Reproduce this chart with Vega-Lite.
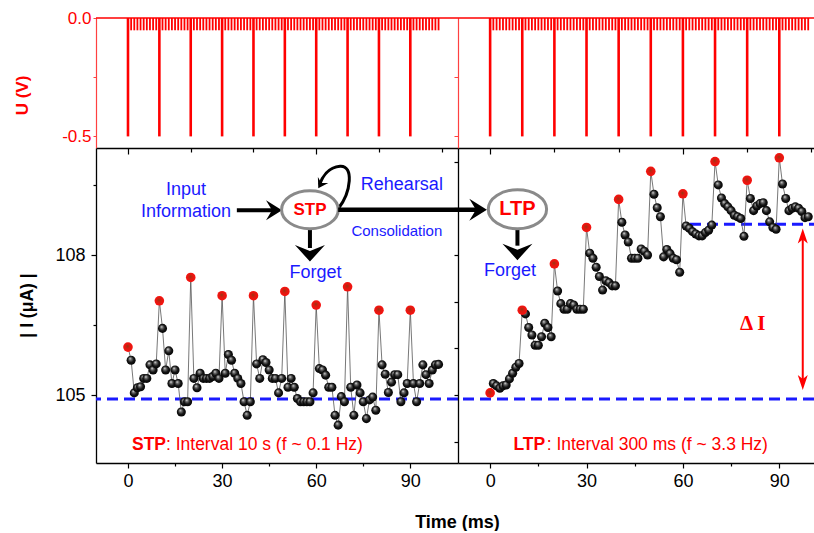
{
"$schema":"https://vega.github.io/schema/vega-lite/v6.json",
"background":"white",
"padding":{"left":13,"top":9,"right":0,"bottom":0},
"config":{"view":{"stroke":null},"font":"Liberation Sans","concat":{"spacing":0},"axis":{"grid":false,"labelFont":"Liberation Sans","titleFont":"Liberation Sans"},"text":{"font":"Liberation Sans"}},
"datasets":{
"pulse":[{"t":0,"u":-0.5},{"t":1,"u":-0.052},{"t":2,"u":-0.052},{"t":3,"u":-0.052},{"t":4,"u":-0.052},{"t":5,"u":-0.052},{"t":6,"u":-0.052},{"t":7,"u":-0.052},{"t":8,"u":-0.052},{"t":9,"u":-0.052},
{"t":10,"u":-0.5},{"t":11,"u":-0.052},{"t":12,"u":-0.052},{"t":13,"u":-0.052},{"t":14,"u":-0.052},{"t":15,"u":-0.052},{"t":16,"u":-0.052},{"t":17,"u":-0.052},{"t":18,"u":-0.052},{"t":19,"u":-0.052},
{"t":20,"u":-0.5},{"t":21,"u":-0.052},{"t":22,"u":-0.052},{"t":23,"u":-0.052},{"t":24,"u":-0.052},{"t":25,"u":-0.052},{"t":26,"u":-0.052},{"t":27,"u":-0.052},{"t":28,"u":-0.052},{"t":29,"u":-0.052},
{"t":30,"u":-0.5},{"t":31,"u":-0.052},{"t":32,"u":-0.052},{"t":33,"u":-0.052},{"t":34,"u":-0.052},{"t":35,"u":-0.052},{"t":36,"u":-0.052},{"t":37,"u":-0.052},{"t":38,"u":-0.052},{"t":39,"u":-0.052},
{"t":40,"u":-0.5},{"t":41,"u":-0.052},{"t":42,"u":-0.052},{"t":43,"u":-0.052},{"t":44,"u":-0.052},{"t":45,"u":-0.052},{"t":46,"u":-0.052},{"t":47,"u":-0.052},{"t":48,"u":-0.052},{"t":49,"u":-0.052},
{"t":50,"u":-0.5},{"t":51,"u":-0.052},{"t":52,"u":-0.052},{"t":53,"u":-0.052},{"t":54,"u":-0.052},{"t":55,"u":-0.052},{"t":56,"u":-0.052},{"t":57,"u":-0.052},{"t":58,"u":-0.052},{"t":59,"u":-0.052},
{"t":60,"u":-0.5},{"t":61,"u":-0.052},{"t":62,"u":-0.052},{"t":63,"u":-0.052},{"t":64,"u":-0.052},{"t":65,"u":-0.052},{"t":66,"u":-0.052},{"t":67,"u":-0.052},{"t":68,"u":-0.052},{"t":69,"u":-0.052},
{"t":70,"u":-0.5},{"t":71,"u":-0.052},{"t":72,"u":-0.052},{"t":73,"u":-0.052},{"t":74,"u":-0.052},{"t":75,"u":-0.052},{"t":76,"u":-0.052},{"t":77,"u":-0.052},{"t":78,"u":-0.052},{"t":79,"u":-0.052},
{"t":80,"u":-0.5},{"t":81,"u":-0.052},{"t":82,"u":-0.052},{"t":83,"u":-0.052},{"t":84,"u":-0.052},{"t":85,"u":-0.052},{"t":86,"u":-0.052},{"t":87,"u":-0.052},{"t":88,"u":-0.052},{"t":89,"u":-0.052},
{"t":90,"u":-0.5},{"t":91,"u":-0.052},{"t":92,"u":-0.052},{"t":93,"u":-0.052},{"t":94,"u":-0.052},{"t":95,"u":-0.052},{"t":96,"u":-0.052},{"t":97,"u":-0.052},{"t":98,"u":-0.052},{"t":99,"u":-0.052}],
"cur":[
{"p":"STP","t":0,"i":106.03,"k":"P"},{"p":"STP","t":1,"i":105.75,"k":"R"},{"p":"STP","t":2,"i":105.05,"k":"R"},{"p":"STP","t":3,"i":105.16,"k":"R"},{"p":"STP","t":4,"i":105.18,"k":"R"},{"p":"STP","t":5,"i":105.36,"k":"R"},{"p":"STP","t":6,"i":105.36,"k":"R"},{"p":"STP","t":7,"i":105.65,"k":"R"},{"p":"STP","t":8,"i":105.54,"k":"R"},{"p":"STP","t":9,"i":105.67,"k":"R"},
{"p":"STP","t":10,"i":107.02,"k":"P"},{"p":"STP","t":11,"i":106.43,"k":"R"},{"p":"STP","t":12,"i":105.54,"k":"R"},{"p":"STP","t":13,"i":105.95,"k":"R"},{"p":"STP","t":14,"i":105.25,"k":"R"},{"p":"STP","t":15,"i":105.54,"k":"R"},{"p":"STP","t":16,"i":105.25,"k":"R"},{"p":"STP","t":17,"i":104.64,"k":"R"},{"p":"STP","t":18,"i":104.86,"k":"R"},{"p":"STP","t":19,"i":104.86,"k":"R"},
{"p":"STP","t":20,"i":107.52,"k":"P"},{"p":"STP","t":21,"i":105.36,"k":"R"},{"p":"STP","t":22,"i":105.16,"k":"R"},{"p":"STP","t":23,"i":105.47,"k":"R"},{"p":"STP","t":24,"i":105.36,"k":"R"},{"p":"STP","t":25,"i":105.36,"k":"R"},{"p":"STP","t":26,"i":105.36,"k":"R"},{"p":"STP","t":27,"i":105.4,"k":"R"},{"p":"STP","t":28,"i":105.47,"k":"R"},{"p":"STP","t":29,"i":105.36,"k":"R"},
{"p":"STP","t":30,"i":107.13,"k":"P"},{"p":"STP","t":31,"i":105.47,"k":"R"},{"p":"STP","t":32,"i":105.87,"k":"R"},{"p":"STP","t":33,"i":105.75,"k":"R"},{"p":"STP","t":34,"i":105.47,"k":"R"},{"p":"STP","t":35,"i":105.36,"k":"R"},{"p":"STP","t":36,"i":105.25,"k":"R"},{"p":"STP","t":37,"i":104.86,"k":"R"},{"p":"STP","t":38,"i":104.57,"k":"R"},{"p":"STP","t":39,"i":104.86,"k":"R"},
{"p":"STP","t":40,"i":107.13,"k":"P"},{"p":"STP","t":41,"i":105.67,"k":"R"},{"p":"STP","t":42,"i":105.36,"k":"R"},{"p":"STP","t":43,"i":105.76,"k":"R"},{"p":"STP","t":44,"i":105.7,"k":"R"},{"p":"STP","t":45,"i":105.54,"k":"R"},{"p":"STP","t":46,"i":105.36,"k":"R"},{"p":"STP","t":47,"i":105.36,"k":"R"},{"p":"STP","t":48,"i":105.05,"k":"R"},{"p":"STP","t":49,"i":105.36,"k":"R"},
{"p":"STP","t":50,"i":107.22,"k":"P"},{"p":"STP","t":51,"i":105.17,"k":"R"},{"p":"STP","t":52,"i":105.36,"k":"R"},{"p":"STP","t":53,"i":105.17,"k":"R"},{"p":"STP","t":54,"i":104.93,"k":"R"},{"p":"STP","t":55,"i":104.86,"k":"R"},{"p":"STP","t":56,"i":104.86,"k":"R"},{"p":"STP","t":57,"i":104.86,"k":"R"},{"p":"STP","t":58,"i":104.86,"k":"R"},{"p":"STP","t":59,"i":105.05,"k":"R"},
{"p":"STP","t":60,"i":106.93,"k":"P"},{"p":"STP","t":61,"i":105.57,"k":"R"},{"p":"STP","t":62,"i":105.54,"k":"R"},{"p":"STP","t":63,"i":105.43,"k":"R"},{"p":"STP","t":64,"i":105.17,"k":"R"},{"p":"STP","t":65,"i":105.17,"k":"R"},{"p":"STP","t":66,"i":104.57,"k":"R"},{"p":"STP","t":67,"i":104.36,"k":"R"},{"p":"STP","t":68,"i":104.97,"k":"R"},{"p":"STP","t":69,"i":104.86,"k":"R"},
{"p":"STP","t":70,"i":107.32,"k":"P"},{"p":"STP","t":71,"i":105.17,"k":"R"},{"p":"STP","t":72,"i":104.57,"k":"R"},{"p":"STP","t":73,"i":105.22,"k":"R"},{"p":"STP","t":74,"i":105.05,"k":"R"},{"p":"STP","t":75,"i":104.86,"k":"R"},{"p":"STP","t":76,"i":104.5,"k":"R"},{"p":"STP","t":77,"i":104.9,"k":"R"},{"p":"STP","t":78,"i":104.96,"k":"R"},{"p":"STP","t":79,"i":104.68,"k":"R"},
{"p":"STP","t":80,"i":106.82,"k":"P"},{"p":"STP","t":81,"i":105.65,"k":"R"},{"p":"STP","t":82,"i":105.45,"k":"R"},{"p":"STP","t":83,"i":105.06,"k":"R"},{"p":"STP","t":84,"i":105.28,"k":"R"},{"p":"STP","t":85,"i":105.44,"k":"R"},{"p":"STP","t":86,"i":105.44,"k":"R"},{"p":"STP","t":87,"i":104.86,"k":"R"},{"p":"STP","t":88,"i":105.05,"k":"R"},{"p":"STP","t":89,"i":105.25,"k":"R"},
{"p":"STP","t":90,"i":106.82,"k":"P"},{"p":"STP","t":91,"i":105.25,"k":"R"},{"p":"STP","t":92,"i":104.86,"k":"R"},{"p":"STP","t":93,"i":105.25,"k":"R"},{"p":"STP","t":94,"i":105.65,"k":"R"},{"p":"STP","t":95,"i":105.44,"k":"R"},{"p":"STP","t":96,"i":105.25,"k":"R"},{"p":"STP","t":97,"i":105.54,"k":"R"},{"p":"STP","t":98,"i":105.65,"k":"R"},{"p":"STP","t":99,"i":105.66,"k":"R"},
{"p":"LTP","t":0,"i":105.05,"k":"P"},{"p":"LTP","t":1,"i":105.25,"k":"R"},{"p":"LTP","t":2,"i":105.2,"k":"R"},{"p":"LTP","t":3,"i":105.15,"k":"R"},{"p":"LTP","t":4,"i":105.2,"k":"R"},{"p":"LTP","t":5,"i":105.22,"k":"R"},{"p":"LTP","t":6,"i":105.35,"k":"R"},{"p":"LTP","t":7,"i":105.47,"k":"R"},{"p":"LTP","t":8,"i":105.6,"k":"R"},{"p":"LTP","t":9,"i":105.68,"k":"R"},
{"p":"LTP","t":10,"i":106.82,"k":"P"},{"p":"LTP","t":11,"i":106.74,"k":"R"},{"p":"LTP","t":12,"i":106.45,"k":"R"},{"p":"LTP","t":13,"i":106.29,"k":"R"},{"p":"LTP","t":14,"i":106.07,"k":"R"},{"p":"LTP","t":15,"i":106.07,"k":"R"},{"p":"LTP","t":16,"i":106.25,"k":"R"},{"p":"LTP","t":17,"i":106.54,"k":"R"},{"p":"LTP","t":18,"i":106.45,"k":"R"},{"p":"LTP","t":19,"i":106.25,"k":"R"},
{"p":"LTP","t":20,"i":107.81,"k":"P"},{"p":"LTP","t":21,"i":107.23,"k":"R"},{"p":"LTP","t":22,"i":106.96,"k":"R"},{"p":"LTP","t":23,"i":106.84,"k":"R"},{"p":"LTP","t":24,"i":106.84,"k":"R"},{"p":"LTP","t":25,"i":106.96,"k":"R"},{"p":"LTP","t":26,"i":106.93,"k":"R"},{"p":"LTP","t":27,"i":106.84,"k":"R"},{"p":"LTP","t":28,"i":106.84,"k":"R"},{"p":"LTP","t":29,"i":106.84,"k":"R"},
{"p":"LTP","t":30,"i":108.59,"k":"P"},{"p":"LTP","t":31,"i":108.04,"k":"R"},{"p":"LTP","t":32,"i":107.93,"k":"R"},{"p":"LTP","t":33,"i":107.74,"k":"R"},{"p":"LTP","t":34,"i":107.54,"k":"R"},{"p":"LTP","t":35,"i":107.25,"k":"R"},{"p":"LTP","t":36,"i":107.45,"k":"R"},{"p":"LTP","t":37,"i":107.41,"k":"R"},{"p":"LTP","t":38,"i":107.34,"k":"R"},{"p":"LTP","t":39,"i":107.34,"k":"R"},
{"p":"LTP","t":40,"i":109.19,"k":"P"},{"p":"LTP","t":41,"i":108.7,"k":"R"},{"p":"LTP","t":42,"i":108.43,"k":"R"},{"p":"LTP","t":43,"i":108.28,"k":"R"},{"p":"LTP","t":44,"i":107.93,"k":"R"},{"p":"LTP","t":45,"i":107.93,"k":"R"},{"p":"LTP","t":46,"i":107.93,"k":"R"},{"p":"LTP","t":47,"i":108.13,"k":"R"},{"p":"LTP","t":48,"i":108.08,"k":"R"},{"p":"LTP","t":49,"i":108.0,"k":"R"},
{"p":"LTP","t":50,"i":109.79,"k":"P"},{"p":"LTP","t":51,"i":109.3,"k":"R"},{"p":"LTP","t":52,"i":109.01,"k":"R"},{"p":"LTP","t":53,"i":108.82,"k":"R"},{"p":"LTP","t":54,"i":107.96,"k":"R"},{"p":"LTP","t":55,"i":108.12,"k":"R"},{"p":"LTP","t":56,"i":108.03,"k":"R"},{"p":"LTP","t":57,"i":107.93,"k":"R"},{"p":"LTP","t":58,"i":107.9,"k":"R"},{"p":"LTP","t":59,"i":107.63,"k":"R"},
{"p":"LTP","t":60,"i":109.31,"k":"P"},{"p":"LTP","t":61,"i":108.62,"k":"R"},{"p":"LTP","t":62,"i":108.57,"k":"R"},{"p":"LTP","t":63,"i":108.5,"k":"R"},{"p":"LTP","t":64,"i":108.45,"k":"R"},{"p":"LTP","t":65,"i":108.41,"k":"R"},{"p":"LTP","t":66,"i":108.41,"k":"R"},{"p":"LTP","t":67,"i":108.48,"k":"R"},{"p":"LTP","t":68,"i":108.53,"k":"R"},{"p":"LTP","t":69,"i":108.64,"k":"R"},
{"p":"LTP","t":70,"i":110.0,"k":"P"},{"p":"LTP","t":71,"i":109.5,"k":"R"},{"p":"LTP","t":72,"i":109.22,"k":"R"},{"p":"LTP","t":73,"i":109.1,"k":"R"},{"p":"LTP","t":74,"i":109.03,"k":"R"},{"p":"LTP","t":75,"i":108.95,"k":"R"},{"p":"LTP","t":76,"i":108.85,"k":"R"},{"p":"LTP","t":77,"i":108.82,"k":"R"},{"p":"LTP","t":78,"i":108.78,"k":"R"},{"p":"LTP","t":79,"i":108.4,"k":"R"},
{"p":"LTP","t":80,"i":109.6,"k":"P"},{"p":"LTP","t":81,"i":109.21,"k":"R"},{"p":"LTP","t":82,"i":108.95,"k":"R"},{"p":"LTP","t":83,"i":109.05,"k":"R"},{"p":"LTP","t":84,"i":109.1,"k":"R"},{"p":"LTP","t":85,"i":109.12,"k":"R"},{"p":"LTP","t":86,"i":108.95,"k":"R"},{"p":"LTP","t":87,"i":108.71,"k":"R"},{"p":"LTP","t":88,"i":108.59,"k":"R"},{"p":"LTP","t":89,"i":108.55,"k":"R"},
{"p":"LTP","t":90,"i":110.08,"k":"P"},{"p":"LTP","t":91,"i":109.52,"k":"R"},{"p":"LTP","t":92,"i":109.21,"k":"R"},{"p":"LTP","t":93,"i":108.95,"k":"R"},{"p":"LTP","t":94,"i":109.0,"k":"R"},{"p":"LTP","t":95,"i":109.03,"k":"R"},{"p":"LTP","t":96,"i":109.0,"k":"R"},{"p":"LTP","t":97,"i":108.93,"k":"R"},{"p":"LTP","t":98,"i":108.8,"k":"R"},{"p":"LTP","t":99,"i":108.82,"k":"R"}
]},
"bounds":"flush",
"spacing":0,
"align":"each",
"columns":2,
"concat":[
{"width":362,"height":130,"layer":[
{"data":{"name":"pulse"},"transform":[{"filter":"datum.u > -0.3"}],"mark":{"type":"rule","color":"#ff0000","strokeWidth":1.8},
"encoding":{"x":{"field":"t","type":"quantitative","scale":{"domain":[-10.2,105.2],"nice":false,"zero":false},"axis":{"orient":"bottom","title":null,"labels":false,"values":[0,10,20,30,40,50,60,70,80,90,100],"tickSize":{"condition":{"test":"datum.value % 30 === 0","value":6},"value":4},"domainColor":"#000000","tickColor":"#000000","domainWidth":1.3,"tickWidth":1.2}},
"y":{"field":"u","type":"quantitative","scale":{"domain":[-0.549,0],"nice":false,"zero":false},"axis":{"title":"U (V)","titleColor":"#ff0000","titleFontSize":17,"titleFontWeight":"bold","titleX":-74,"titleY":77,"titleAngle":270,"titleAlign":"center","titleBaseline":"middle","values":[0,-0.125,-0.25,-0.375,-0.5],"labelExpr":"datum.value === 0 ? '0.0' : (datum.value === -0.5 ? '-0.5' : '')","labelColor":"#ff0000","labelFontSize":17,"labelPadding":2,"labelFlush":false,"labelOverlap":false,"labelBaseline":"middle","tickSize":3,"tickColor":"#ff4040","domainColor":"#ff4040","domainWidth":1.2}},
"y2":{"datum":0}}},
{"data":{"name":"pulse"},"transform":[{"filter":"datum.u <= -0.3"}],"mark":{"type":"rule","color":"#ff0000","strokeWidth":2.6},
"encoding":{"x":{"field":"t","type":"quantitative","scale":{"domain":[-10.2,105.2],"nice":false,"zero":false}},"y":{"field":"u","type":"quantitative","scale":{"domain":[-0.549,0],"nice":false,"zero":false}},"y2":{"datum":0}}},
{"data":{"values":[{}]},"mark":{"type":"rule","color":"#ff0000","strokeWidth":1.5},"encoding":{"y":{"datum":0,"type":"quantitative","scale":{"domain":[-0.549,0],"nice":false,"zero":false}}}}
]},
{"width":356,"height":130,"layer":[
{"data":{"name":"pulse"},"transform":[{"filter":"datum.u > -0.3"}],"mark":{"type":"rule","color":"#ff0000","strokeWidth":1.8},
"encoding":{"x":{"field":"t","type":"quantitative","scale":{"domain":[-10,100.8],"nice":false,"zero":false},"axis":{"orient":"bottom","title":null,"labels":false,"values":[0,10,20,30,40,50,60,70,80,90,100],"tickSize":{"condition":{"test":"datum.value % 30 === 0","value":6},"value":4},"domainColor":"#000000","tickColor":"#000000","domainWidth":1.3,"tickWidth":1.2}},
"y":{"field":"u","type":"quantitative","scale":{"domain":[-0.549,0],"nice":false,"zero":false},"axis":{"title":null,"labels":false,"values":[0,-0.125,-0.25,-0.375,-0.5],"tickSize":4,"tickColor":"#ff4040","domainColor":"#ff4040","domainWidth":1.2}},
"y2":{"datum":0}}},
{"data":{"name":"pulse"},"transform":[{"filter":"datum.u <= -0.3"}],"mark":{"type":"rule","color":"#ff0000","strokeWidth":2.6},
"encoding":{"x":{"field":"t","type":"quantitative","scale":{"domain":[-10,100.8],"nice":false,"zero":false}},"y":{"field":"u","type":"quantitative","scale":{"domain":[-0.549,0],"nice":false,"zero":false}},"y2":{"datum":0}}},
{"data":{"values":[{}]},"mark":{"type":"rule","color":"#ff0000","strokeWidth":1.5},"encoding":{"y":{"datum":0,"type":"quantitative","scale":{"domain":[-0.549,0],"nice":false,"zero":false}}}}
]},
{"width":362,"height":315,"layer":[
{"data":{"values":[{}]},"mark":{"type":"rule","color":"#1a1aff","strokeWidth":3,"strokeDash":[11,6]},"encoding":{"y":{"datum":104.92,"type":"quantitative","scale":{"domain":[103.55,110.29],"nice":false,"zero":false}}}},
{"data":{"name":"cur"},"transform":[{"filter":"datum.p === 'STP'"}],"mark":{"type":"line","color":"#555555","strokeWidth":0.8},
"encoding":{"x":{"field":"t","type":"quantitative","scale":{"domain":[-10.2,105.2],"nice":false,"zero":false},"axis":{"orient":"bottom","values":[0,15,30,45,60,75,90],"labelExpr":"datum.value % 30 === 0 ? datum.label : ''","labelFontSize":18,"labelColor":"#000000","labelPadding":4,"labelFlush":false,"labelOverlap":false,"tickSize":{"condition":{"test":"datum.value % 30 === 0","value":5},"value":3},"tickColor":"#000000","domainColor":"#000000","domainWidth":1.3,"tickWidth":1.2,"title":"Time (ms)","titleFontSize":18,"titleFontWeight":"bold","titleColor":"#000000","titleX":361,"titleY":59,"titleAlign":"center","titleBaseline":"middle","titleAngle":0}},
"y":{"field":"i","type":"quantitative","scale":{"domain":[103.55,110.29],"nice":false,"zero":false},"axis":{"values":[105,106.5,108,109.5],"labelExpr":"datum.value % 3 === 0 ? format(datum.value, 'd') : ''","labelFontSize":18,"labelColor":"#000000","labelPadding":6,"labelFlush":false,"labelOverlap":false,"tickSize":{"condition":{"test":"datum.value % 3 === 0","value":5},"value":3},"tickColor":"#000000","domainColor":"#000000","domainWidth":1.3,"tickWidth":1.2,"title":"| I (μA) |","titleFontSize":17.5,"titleFontWeight":"bold","titleColor":"#000000","titleX":-68.5,"titleY":157,"titleAngle":270,"titleAlign":"center","titleBaseline":"middle"}}}},
{"data":{"name":"cur"},"transform":[{"filter":"datum.p === 'STP' && datum.k === 'R'"}],"mark":{"type":"point","filled":true,"opacity":1,"strokeWidth":0,"size":82,"fill":{"gradient":"radial","x1":0.38,"y1":0.3,"r1":0,"x2":0.5,"y2":0.5,"r2":0.55,"stops":[{"offset":0,"color":"#f2f2f2"},{"offset":0.25,"color":"#707070"},{"offset":0.6,"color":"#151515"},{"offset":1,"color":"#000000"}]}},
"encoding":{"x":{"field":"t","type":"quantitative","scale":{"domain":[-10.2,105.2],"nice":false,"zero":false}},"y":{"field":"i","type":"quantitative","scale":{"domain":[103.55,110.29],"nice":false,"zero":false}}}},
{"data":{"name":"cur"},"transform":[{"filter":"datum.p === 'STP' && datum.k === 'P'"}],"mark":{"type":"point","filled":true,"opacity":1,"strokeWidth":0,"size":92,"fill":{"gradient":"radial","x1":0.45,"y1":0.4,"r1":0,"x2":0.5,"y2":0.5,"r2":0.55,"stops":[{"offset":0,"color":"#8c3c14"},{"offset":0.35,"color":"#d81c10"},{"offset":1,"color":"#ff1010"}]}},
"encoding":{"x":{"field":"t","type":"quantitative","scale":{"domain":[-10.2,105.2],"nice":false,"zero":false}},"y":{"field":"i","type":"quantitative","scale":{"domain":[103.55,110.29],"nice":false,"zero":false}}}},
{"data":{"values":[{}]},"mark":{"type":"text","text":"Input","color":"#1a1aff","fontSize":18,"align":"center","baseline":"middle"},"encoding":{"x":{"datum":18.5,"type":"quantitative","scale":{"domain":[-10.2,105.2],"nice":false,"zero":false}},"y":{"datum":109.39,"type":"quantitative","scale":{"domain":[103.55,110.29],"nice":false,"zero":false}}}},
{"data":{"values":[{}]},"mark":{"type":"text","text":"Information","color":"#1a1aff","fontSize":18,"align":"center","baseline":"middle"},"encoding":{"x":{"datum":18.5,"type":"quantitative","scale":{"domain":[-10.2,105.2],"nice":false,"zero":false}},"y":{"datum":108.92,"type":"quantitative","scale":{"domain":[103.55,110.29],"nice":false,"zero":false}}}},
{"data":{"values":[{}]},"mark":{"type":"rule","color":"#000000","strokeWidth":4},"encoding":{"x":{"datum":34.7,"type":"quantitative","scale":{"domain":[-10.2,105.2],"nice":false,"zero":false}},"x2":{"datum":46},"y":{"datum":108.96,"type":"quantitative","scale":{"domain":[103.55,110.29],"nice":false,"zero":false}}}},
{"data":{"values":[{}]},"mark":{"type":"point","shape":"M 0 0 L -1.6 -1 L -1 0 L -1.6 1 Z","size":400,"filled":true,"color":"#000000","opacity":1,"strokeWidth":0,"angle":0},"encoding":{"x":{"datum":49.1,"type":"quantitative","scale":{"domain":[-10.2,105.2],"nice":false,"zero":false}},"y":{"datum":108.96,"type":"quantitative","scale":{"domain":[103.55,110.29],"nice":false,"zero":false}}}},
{"data":{"values":[{}]},"mark":{"type":"point","shape":"M 0.215 1.015 C 0.85 0.2 1.0 -1.15 0.3 -1.1 C -0.3 -1.05 -0.6 -0.55 -0.72 -0.18","size":1600,"filled":false,"color":"#000000","opacity":1,"strokeWidth":3},"encoding":{"x":{"datum":65.7,"type":"quantitative","scale":{"domain":[-10.2,105.2],"nice":false,"zero":false}},"y":{"datum":109.43,"type":"quantitative","scale":{"domain":[103.55,110.29],"nice":false,"zero":false}}}},
{"data":{"values":[{}]},"mark":{"type":"point","shape":"M 0 0 L -1.6 -1 L -1 0 L -1.6 1 Z","size":144,"filled":true,"color":"#000000","opacity":1,"strokeWidth":0,"angle":120},"encoding":{"x":{"datum":60.66,"type":"quantitative","scale":{"domain":[-10.2,105.2],"nice":false,"zero":false}},"y":{"datum":109.43,"type":"quantitative","scale":{"domain":[103.55,110.29],"nice":false,"zero":false}}}},
{"data":{"values":[{}]},"mark":{"type":"rule","color":"#000000","strokeWidth":4},"encoding":{"x":{"datum":58,"type":"quantitative","scale":{"domain":[-10.2,105.2],"nice":false,"zero":false}},"y":{"datum":108.75,"type":"quantitative","scale":{"domain":[103.55,110.29],"nice":false,"zero":false}},"y2":{"datum":108.15}}},
{"data":{"values":[{}]},"mark":{"type":"point","shape":"M 0 0 L -1.1 -1 L -0.7 0 L -1.1 1 Z","size":900,"filled":true,"color":"#000000","opacity":1,"strokeWidth":0,"angle":90},"encoding":{"x":{"datum":58,"type":"quantitative","scale":{"domain":[-10.2,105.2],"nice":false,"zero":false}},"y":{"datum":107.86,"type":"quantitative","scale":{"domain":[103.55,110.29],"nice":false,"zero":false}}}},
{"data":{"values":[{}]},"mark":{"type":"point","shape":"M -1 0 C -1 -0.37 -0.552 -0.67 0 -0.67 C 0.552 -0.67 1 -0.37 1 0 C 1 0.37 0.552 0.67 0 0.67 C -0.552 0.67 -1 0.37 -1 0 Z","size":3215,"filled":true,"fill":"#ffffff","stroke":"#8a8a8a","strokeWidth":3,"opacity":1},"encoding":{"x":{"datum":58,"type":"quantitative","scale":{"domain":[-10.2,105.2],"nice":false,"zero":false}},"y":{"datum":108.97,"type":"quantitative","scale":{"domain":[103.55,110.29],"nice":false,"zero":false}}}},
{"data":{"values":[{}]},"mark":{"type":"text","text":"STP","color":"#ff0000","fontSize":17,"fontWeight":"bold","align":"center","baseline":"middle"},"encoding":{"x":{"datum":58,"type":"quantitative","scale":{"domain":[-10.2,105.2],"nice":false,"zero":false}},"y":{"datum":108.97,"type":"quantitative","scale":{"domain":[103.55,110.29],"nice":false,"zero":false}}}},
{"data":{"values":[{}]},"mark":{"type":"text","text":"Forget","color":"#1a1aff","fontSize":18,"align":"center","baseline":"middle"},"encoding":{"x":{"datum":59.8,"type":"quantitative","scale":{"domain":[-10.2,105.2],"nice":false,"zero":false}},"y":{"datum":107.61,"type":"quantitative","scale":{"domain":[103.55,110.29],"nice":false,"zero":false}}}},
{"data":{"values":[{}]},"mark":{"type":"text","text":"Rehearsal","color":"#1a1aff","fontSize":18,"align":"center","baseline":"middle"},"encoding":{"x":{"datum":87.3,"type":"quantitative","scale":{"domain":[-10.2,105.2],"nice":false,"zero":false}},"y":{"datum":109.5,"type":"quantitative","scale":{"domain":[103.55,110.29],"nice":false,"zero":false}}}},
{"data":{"values":[{}]},"mark":{"type":"text","text":"Consolidation","color":"#1a1aff","fontSize":15,"align":"center","baseline":"middle"},"encoding":{"x":{"datum":85.7,"type":"quantitative","scale":{"domain":[-10.2,105.2],"nice":false,"zero":false}},"y":{"datum":108.51,"type":"quantitative","scale":{"domain":[103.55,110.29],"nice":false,"zero":false}}}},
{"data":{"values":[{}]},"mark":{"type":"text","text":"STP","color":"#ff0000","fontSize":17.5,"fontWeight":"bold","align":"left","baseline":"middle"},"encoding":{"x":{"datum":1.28,"type":"quantitative","scale":{"domain":[-10.2,105.2],"nice":false,"zero":false}},"y":{"datum":103.93,"type":"quantitative","scale":{"domain":[103.55,110.29],"nice":false,"zero":false}}}},
{"data":{"values":[{}]},"mark":{"type":"text","text":": Interval 10 s (f ~ 0.1 Hz)","color":"#ff0000","fontSize":17.5,"align":"left","baseline":"middle"},"encoding":{"x":{"datum":12.1,"type":"quantitative","scale":{"domain":[-10.2,105.2],"nice":false,"zero":false}},"y":{"datum":103.93,"type":"quantitative","scale":{"domain":[103.55,110.29],"nice":false,"zero":false}}}}
]},
{"width":356,"height":315,"layer":[
{"data":{"values":[{}]},"mark":{"type":"rule","color":"#1a1aff","strokeWidth":3,"strokeDash":[11,6]},"encoding":{"y":{"datum":104.92,"type":"quantitative","scale":{"domain":[103.55,110.29],"nice":false,"zero":false}}}},
{"data":{"values":[{}]},"mark":{"type":"rule","color":"#1a1aff","strokeWidth":3,"strokeDash":[11,6]},"encoding":{"x":{"datum":62.2,"type":"quantitative","scale":{"domain":[-10,100.8],"nice":false,"zero":false}},"x2":{"datum":100.8},"y":{"datum":108.66,"type":"quantitative","scale":{"domain":[103.55,110.29],"nice":false,"zero":false}}}},
{"data":{"name":"cur"},"transform":[{"filter":"datum.p === 'LTP'"}],"mark":{"type":"line","color":"#555555","strokeWidth":0.8},
"encoding":{"x":{"field":"t","type":"quantitative","scale":{"domain":[-10,100.8],"nice":false,"zero":false},"axis":{"orient":"bottom","values":[0,15,30,45,60,75,90],"labelExpr":"datum.value % 30 === 0 ? datum.label : ''","labelFontSize":18,"labelColor":"#000000","labelPadding":4,"labelFlush":false,"labelOverlap":false,"tickSize":{"condition":{"test":"datum.value % 30 === 0","value":5},"value":3},"tickColor":"#000000","domainColor":"#000000","domainWidth":1.3,"tickWidth":1.2,"title":null}},
"y":{"field":"i","type":"quantitative","scale":{"domain":[103.55,110.29],"nice":false,"zero":false},"axis":{"title":null,"labels":false,"values":[104,104.5,105,105.5,106,106.5,107,107.5,108,108.5,109,109.5,110],"tickSize":4,"tickColor":"#000000","domainColor":"#000000","domainWidth":1.3,"tickWidth":1.2}}}},
{"data":{"name":"cur"},"transform":[{"filter":"datum.p === 'LTP' && datum.k === 'R'"}],"mark":{"type":"point","filled":true,"opacity":1,"strokeWidth":0,"size":82,"fill":{"gradient":"radial","x1":0.38,"y1":0.3,"r1":0,"x2":0.5,"y2":0.5,"r2":0.55,"stops":[{"offset":0,"color":"#f2f2f2"},{"offset":0.25,"color":"#707070"},{"offset":0.6,"color":"#151515"},{"offset":1,"color":"#000000"}]}},
"encoding":{"x":{"field":"t","type":"quantitative","scale":{"domain":[-10,100.8],"nice":false,"zero":false}},"y":{"field":"i","type":"quantitative","scale":{"domain":[103.55,110.29],"nice":false,"zero":false}}}},
{"data":{"name":"cur"},"transform":[{"filter":"datum.p === 'LTP' && datum.k === 'P'"}],"mark":{"type":"point","filled":true,"opacity":1,"strokeWidth":0,"size":92,"fill":{"gradient":"radial","x1":0.45,"y1":0.4,"r1":0,"x2":0.5,"y2":0.5,"r2":0.55,"stops":[{"offset":0,"color":"#8c3c14"},{"offset":0.35,"color":"#d81c10"},{"offset":1,"color":"#ff1010"}]}},
"encoding":{"x":{"field":"t","type":"quantitative","scale":{"domain":[-10,100.8],"nice":false,"zero":false}},"y":{"field":"i","type":"quantitative","scale":{"domain":[103.55,110.29],"nice":false,"zero":false}}}},
{"data":{"values":[{}]},"mark":{"type":"rule","color":"#ff0000","strokeWidth":2},"encoding":{"x":{"datum":97.3,"type":"quantitative","scale":{"domain":[-10,100.8],"nice":false,"zero":false}},"y":{"datum":108.45,"type":"quantitative","scale":{"domain":[103.55,110.29],"nice":false,"zero":false}},"y2":{"datum":105.22}}},
{"data":{"values":[{}]},"mark":{"type":"point","shape":"M 0 0 L -1.5 -0.5 L -1.1 0 L -1.5 0.5 Z","size":400,"filled":true,"color":"#ff0000","opacity":1,"strokeWidth":0,"angle":270},"encoding":{"x":{"datum":97.3,"type":"quantitative","scale":{"domain":[-10,100.8],"nice":false,"zero":false}},"y":{"datum":108.57,"type":"quantitative","scale":{"domain":[103.55,110.29],"nice":false,"zero":false}}}},
{"data":{"values":[{}]},"mark":{"type":"point","shape":"M 0 0 L -1.5 -0.5 L -1.1 0 L -1.5 0.5 Z","size":400,"filled":true,"color":"#ff0000","opacity":1,"strokeWidth":0,"angle":90},"encoding":{"x":{"datum":97.3,"type":"quantitative","scale":{"domain":[-10,100.8],"nice":false,"zero":false}},"y":{"datum":105.11,"type":"quantitative","scale":{"domain":[103.55,110.29],"nice":false,"zero":false}}}},
{"data":{"values":[{}]},"mark":{"type":"text","text":"Δ I","color":"#ff0000","font":"Liberation Serif","fontSize":21,"fontWeight":"bold","align":"center","baseline":"middle"},"encoding":{"x":{"datum":81.7,"type":"quantitative","scale":{"domain":[-10,100.8],"nice":false,"zero":false}},"y":{"datum":106.53,"type":"quantitative","scale":{"domain":[103.55,110.29],"nice":false,"zero":false}}}},
{"data":{"values":[{}]},"mark":{"type":"rule","color":"#000000","strokeWidth":4.5},"encoding":{"x":{"datum":-47.3,"type":"quantitative","scale":{"domain":[-10,100.8],"nice":false,"zero":false}},"x2":{"datum":-4.2},"y":{"datum":108.97,"type":"quantitative","scale":{"domain":[103.55,110.29],"nice":false,"zero":false}}}},
{"data":{"values":[{}]},"mark":{"type":"point","shape":"M 0 0 L -1.6 -1 L -1 0 L -1.6 1 Z","size":484,"filled":true,"color":"#000000","opacity":1,"strokeWidth":0,"angle":0},"encoding":{"x":{"datum":-1.0,"type":"quantitative","scale":{"domain":[-10,100.8],"nice":false,"zero":false}},"y":{"datum":108.97,"type":"quantitative","scale":{"domain":[103.55,110.29],"nice":false,"zero":false}}}},
{"data":{"values":[{}]},"mark":{"type":"rule","color":"#000000","strokeWidth":4},"encoding":{"x":{"datum":8.5,"type":"quantitative","scale":{"domain":[-10,100.8],"nice":false,"zero":false}},"y":{"datum":108.75,"type":"quantitative","scale":{"domain":[103.55,110.29],"nice":false,"zero":false}},"y2":{"datum":108.2}}},
{"data":{"values":[{}]},"mark":{"type":"point","shape":"M 0 0 L -1.1 -1 L -0.7 0 L -1.1 1 Z","size":900,"filled":true,"color":"#000000","opacity":1,"strokeWidth":0,"angle":90},"encoding":{"x":{"datum":8.5,"type":"quantitative","scale":{"domain":[-10,100.8],"nice":false,"zero":false}},"y":{"datum":107.89,"type":"quantitative","scale":{"domain":[103.55,110.29],"nice":false,"zero":false}}}},
{"data":{"values":[{}]},"mark":{"type":"point","shape":"M -1 0 C -1 -0.37 -0.552 -0.67 0 -0.67 C 0.552 -0.67 1 -0.37 1 0 C 1 0.37 0.552 0.67 0 0.67 C -0.552 0.67 -1 0.37 -1 0 Z","size":3400,"filled":true,"fill":"#ffffff","stroke":"#8a8a8a","strokeWidth":3,"opacity":1},"encoding":{"x":{"datum":8.5,"type":"quantitative","scale":{"domain":[-10,100.8],"nice":false,"zero":false}},"y":{"datum":108.98,"type":"quantitative","scale":{"domain":[103.55,110.29],"nice":false,"zero":false}}}},
{"data":{"values":[{}]},"mark":{"type":"text","text":"LTP","color":"#ff0000","fontSize":20,"fontWeight":"bold","align":"center","baseline":"middle"},"encoding":{"x":{"datum":8.5,"type":"quantitative","scale":{"domain":[-10,100.8],"nice":false,"zero":false}},"y":{"datum":108.98,"type":"quantitative","scale":{"domain":[103.55,110.29],"nice":false,"zero":false}}}},
{"data":{"values":[{}]},"mark":{"type":"text","text":"Forget","color":"#1a1aff","fontSize":18,"align":"center","baseline":"middle"},"encoding":{"x":{"datum":6.2,"type":"quantitative","scale":{"domain":[-10,100.8],"nice":false,"zero":false}},"y":{"datum":107.66,"type":"quantitative","scale":{"domain":[103.55,110.29],"nice":false,"zero":false}}}},
{"data":{"values":[{}]},"mark":{"type":"text","text":"LTP","color":"#ff0000","fontSize":17.5,"fontWeight":"bold","align":"left","baseline":"middle"},"encoding":{"x":{"datum":7.25,"type":"quantitative","scale":{"domain":[-10,100.8],"nice":false,"zero":false}},"y":{"datum":103.93,"type":"quantitative","scale":{"domain":[103.55,110.29],"nice":false,"zero":false}}}},
{"data":{"values":[{}]},"mark":{"type":"text","text":": Interval 300 ms (f ~ 3.3 Hz)","color":"#ff0000","fontSize":17.5,"align":"left","baseline":"middle"},"encoding":{"x":{"datum":17.6,"type":"quantitative","scale":{"domain":[-10,100.8],"nice":false,"zero":false}},"y":{"datum":103.93,"type":"quantitative","scale":{"domain":[103.55,110.29],"nice":false,"zero":false}}}}
]}
]
}
